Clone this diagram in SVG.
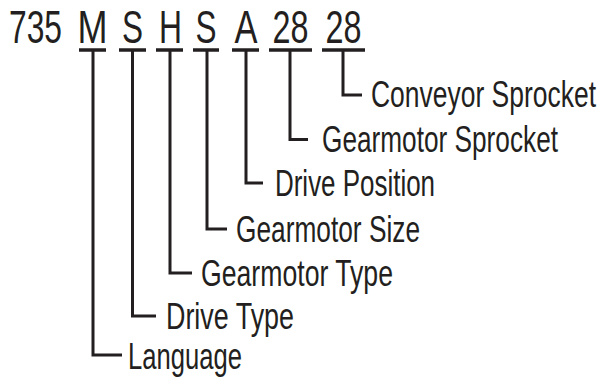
<svg xmlns="http://www.w3.org/2000/svg" width="602" height="379" viewBox="0 0 602 379">
<style>
.code{font-family:"Liberation Sans",Arial,sans-serif;font-size:47px;fill:#231f20;}
.lbl{font-family:"Liberation Sans",Arial,sans-serif;font-size:37px;fill:#231f20;}
.ul{stroke:#231f20;stroke-width:3.5;fill:none;}
.con{stroke:#231f20;stroke-width:3;fill:none;stroke-linecap:butt;stroke-linejoin:miter;}
</style>
<rect width="602" height="379" fill="#ffffff"/>
<g id="prefix">
<text class="code" x="9" y="43" textLength="53" lengthAdjust="spacingAndGlyphs">735</text>
</g>
<g id="language">
<text class="code" x="92.5" y="43" text-anchor="middle" textLength="30" lengthAdjust="spacingAndGlyphs">M</text>
<line class="ul" x1="79" y1="50" x2="106" y2="50"/>
<text class="lbl" x="128" y="369" textLength="114" lengthAdjust="spacingAndGlyphs">Language</text>
</g>
<g id="drive-type">
<text class="code" x="132.5" y="43" text-anchor="middle" textLength="21" lengthAdjust="spacingAndGlyphs">S</text>
<line class="ul" x1="119" y1="50" x2="146" y2="50"/>
<text class="lbl" x="166" y="329" textLength="128" lengthAdjust="spacingAndGlyphs">Drive Type</text>
</g>
<g id="gearmotor-type">
<text class="code" x="170.5" y="43" text-anchor="middle" textLength="23" lengthAdjust="spacingAndGlyphs">H</text>
<line class="ul" x1="156" y1="50" x2="183" y2="50"/>
<text class="lbl" x="201" y="286" textLength="192" lengthAdjust="spacingAndGlyphs">Gearmotor Type</text>
</g>
<g id="gearmotor-size">
<text class="code" x="206" y="43" text-anchor="middle" textLength="21" lengthAdjust="spacingAndGlyphs">S</text>
<line class="ul" x1="193" y1="50" x2="219" y2="50"/>
<text class="lbl" x="236" y="242" textLength="184" lengthAdjust="spacingAndGlyphs">Gearmotor Size</text>
</g>
<g id="drive-position">
<text class="code" x="246" y="43" text-anchor="middle" textLength="23" lengthAdjust="spacingAndGlyphs">A</text>
<line class="ul" x1="232" y1="50" x2="259" y2="50"/>
<text class="lbl" x="275" y="196" textLength="160" lengthAdjust="spacingAndGlyphs">Drive Position</text>
</g>
<g id="gearmotor-sprocket">
<text class="code" x="290.5" y="43" text-anchor="middle" textLength="36" lengthAdjust="spacingAndGlyphs">28</text>
<line class="ul" x1="269" y1="50" x2="312" y2="50"/>
<text class="lbl" x="322" y="152" textLength="236" lengthAdjust="spacingAndGlyphs">Gearmotor Sprocket</text>
</g>
<g id="conveyor-sprocket">
<text class="code" x="343.5" y="43" text-anchor="middle" textLength="36" lengthAdjust="spacingAndGlyphs">28</text>
<line class="ul" x1="322" y1="50" x2="365" y2="50"/>
<text class="lbl" x="371" y="107" textLength="225" lengthAdjust="spacingAndGlyphs">Conveyor Sprocket</text>
</g>
<g id="connectors">
<polyline class="con" points="93,50 93,355 122,355"/>
<polyline class="con" points="132.5,50 132.5,316 156,316"/>
<polyline class="con" points="170,50 170,273 192,273"/>
<polyline class="con" points="207,50 207,229 227,229"/>
<polyline class="con" points="246,50 246,183 263,183"/>
<polyline class="con" points="290,50 290,139.5 308,139.5"/>
<polyline class="con" points="343,50 343,95 362,95"/>
</g>
</svg>
